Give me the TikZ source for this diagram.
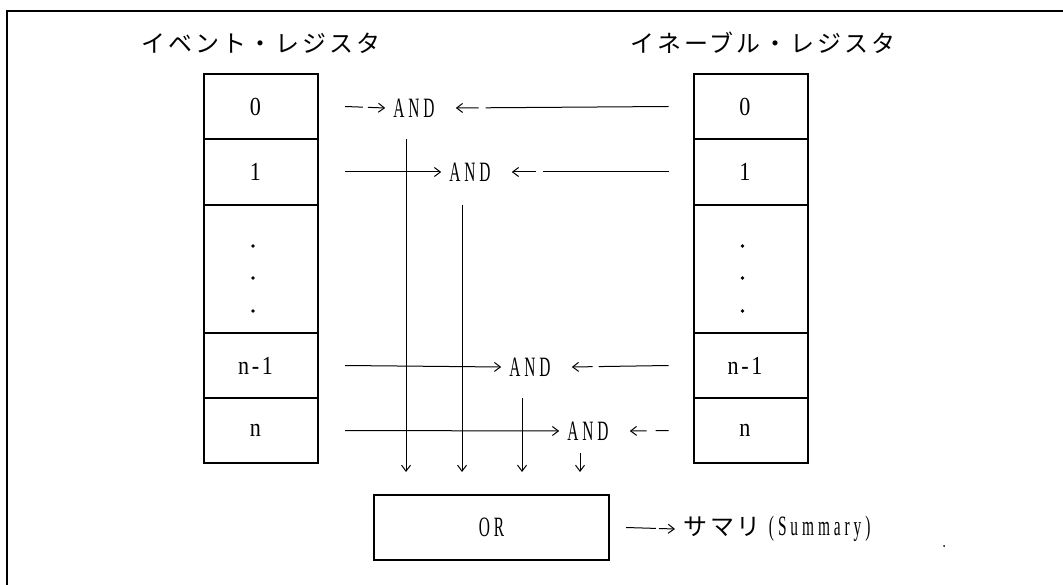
\documentclass[tikz,border=0pt]{standalone}
\usepackage{fontspec}
\setmainfont{Liberation Serif}
\newfontfamily\jpfont[LetterSpace=12]{Noto Sans CJK JP}
\newfontfamily\hwfont[FakeStretch=0.55,LetterSpace=14]{Liberation Serif}
\newfontfamily\cellfont[FakeStretch=0.85,LetterSpace=10]{Liberation Serif}
\usetikzlibrary{arrows.meta,calc}
\begin{document}
\begin{tikzpicture}[x=1pt,y=-1pt,
  reg/.style={draw,line width=2pt,minimum width=114pt,inner sep=0pt,
    font=\cellfont\fontsize{26}{26}\selectfont},
  gate/.style={inner sep=0pt,font=\hwfont\fontsize{28}{28}\selectfont},
  title/.style={inner sep=0pt,font=\jpfont\fontsize{24}{24}\selectfont},
  conn/.style={line width=1pt,-{Straight Barb[length=6pt,width=9pt]}},
  regdot/.style={fill,circle,inner sep=0pt,minimum size=3.6pt}]
\useasboundingbox (0,0) rectangle (1063,585);
% frame
\draw[line width=2pt] (6.25,11) -- (1063,11);
\draw[line width=1.5pt] (7,11) -- (7,585);
% titles
\node[title] (tL) at (261,43) {イベント・レジスタ};
\node[title] (tR) at (763,43) {イネーブル・レジスタ};
% event register
\node[reg,minimum height=65pt] (L0) at (261,106.5) {0\kern11pt};
\node[reg,minimum height=66pt] (L1) at (261,172) {1\kern11pt};
\node[reg,minimum height=128pt] (Ld) at (261,269) {};
\node[reg,minimum height=65pt] (L2) at (261,365.5) {n-1\kern11pt};
\node[reg,minimum height=65pt] (L3) at (261,430.5) {n\kern11pt};
% enable register
\node[reg,minimum height=65pt] (R0) at (750.5,106.5) {0\kern11pt};
\node[reg,minimum height=66pt] (R1) at (750.5,172) {1\kern11pt};
\node[reg,minimum height=128pt] (Rd) at (750.5,269) {};
\node[reg,minimum height=65pt] (R2) at (750.5,365.5) {n-1\kern11pt};
\node[reg,minimum height=65pt] (R3) at (750.5,430.5) {n\kern11pt};
% dots
\foreach \dy in {-23,9,42}{
  \node[regdot] at ($(Ld.center)+(-8,\dy)$) {};
  \node[regdot] at ($(Rd.center)+(-8,\dy)$) {};
}
% AND gates
\node[gate] (A0) at (414,108) {AND};
\node[gate] (A1) at (470,172) {AND};
\node[gate] (A2) at (530,367) {AND};
\node[gate] (A3) at (588,431) {AND};
% OR
\node[draw,line width=2pt,minimum width=235pt,minimum height=65pt,inner sep=0pt,
  font=\hwfont\fontsize{28}{28}\selectfont] (OR) at (491.5,527.5) {OR};
\node[inner sep=0pt,anchor=west] (S) at (683,529)
  {\jpfont\fontsize{24}{24}\selectfont サマリ\kern8pt\hwfont\fontsize{28}{28}\selectfont (Summary)};
% inputs from event register
\draw[conn,dash pattern=on 18pt off 5pt on 60pt] ([xshift=26]L0.east) -- ([xshift=-8]A0.west);
\draw[conn] ([xshift=26]L1.east) -- ([xshift=-8]A1.west);
\draw[conn] ([xshift=26]L2.east) -- ([xshift=-8]A2.west);
\draw[conn] ([xshift=26]L3.east) -- ([xshift=-8]A3.west);
% inputs from enable register
\draw[conn,dash pattern=on 183pt off 7pt on 60pt] ([xshift=-24]R0.west) -- ([xshift=21]A0.east);
\draw[conn,dash pattern=on 126pt off 7pt on 60pt] ([xshift=-24]R1.west) -- ([xshift=21]A1.east);
\draw[conn,dash pattern=on 70pt off 6pt on 60pt] ([xshift=-24]R2.west) -- ([xshift=21]A2.east);
\draw[conn,dash pattern=on 13pt off 9pt on 60pt] ([xshift=-24]R3.west) -- ([xshift=21]A3.east);
% outputs to OR
\coordinate (orin) at ($(OR.north)+(0,-22)$);
\coordinate (v0) at ($(A0.center)+(-8,31)$);
\coordinate (v1) at ($(A1.center)+(-8,33)$);
\coordinate (v2) at ($(A2.center)+(-8,31)$);
\coordinate (v3) at ($(A3.center)+(-8,22)$);
\foreach \v in {v0,v1,v2,v3}{
  \draw[conn] (\v) -- (\v |- orin);
}
% summary
\draw[conn,dash pattern=on 30pt off 3pt on 60pt] ([xshift=16]OR.east) -- ([xshift=-8]S.west);
\fill (944,546) circle (1pt);
\end{tikzpicture}
\end{document}
